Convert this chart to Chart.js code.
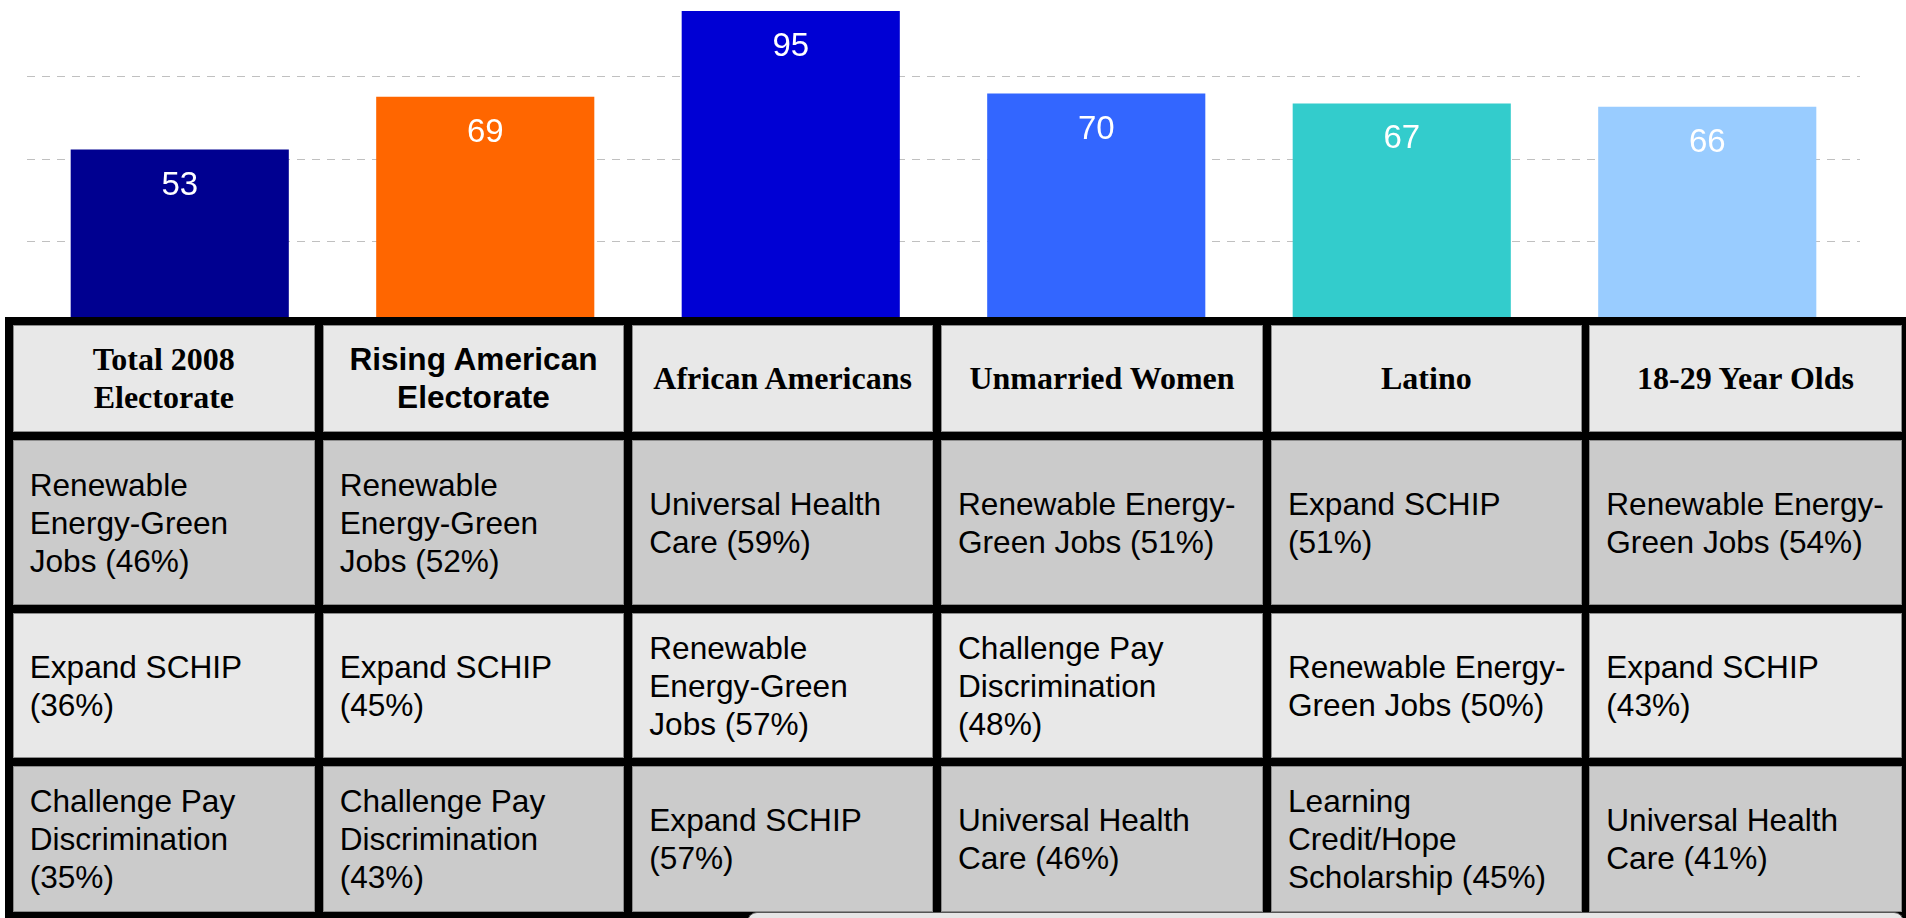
<!DOCTYPE html>
<html>
<head>
<meta charset="utf-8">
<script src="https://cdn.jsdelivr.net/npm/chart.js@4.4.0/dist/chart.umd.min.js"></script>
<style>
html,body{margin:0;padding:0;background:#fff;overflow:hidden;width:1906px;height:918px;}
#wrap{position:relative;width:1906px;height:918px;}
#c{position:absolute;left:0;top:0;}
#tbl{position:absolute;left:5px;top:317px;width:1901px;height:601px;background:#000;}
.cell{position:absolute;box-sizing:border-box;border:1px solid #8c8c8c;display:flex;align-items:center;white-space:pre;overflow:hidden;color:#000;}
.hdr{justify-content:center;text-align:center;font-family:"Liberation Serif","Times New Roman",serif;font-weight:bold;font-size:32px;line-height:38.5px;background:#e8e8e8;}
.hdr.sans{font-family:"Liberation Sans",Arial,sans-serif;font-size:31.6px;line-height:38px;}
.bd{justify-content:flex-start;padding-left:16px;font-family:"Liberation Sans",Arial,sans-serif;font-size:31.6px;line-height:38px;}
.dark{background:#cbcbcb;}
.light{background:#e8e8e8;}
#tab{position:absolute;left:747px;top:912px;width:1157px;height:20px;box-sizing:border-box;border:1.5px solid #555;border-radius:10px 10px 0 0;background:#e6e6e6;}
</style>
</head>
<body>
<div id="wrap">
  <canvas id="c" width="1906" height="918"></canvas>
  <div id="tbl"></div>
  <div id="cells"></div>
  <div id="tab"></div>
</div>
<script>
// ---- data ----
const categories = ["Total 2008 Electorate","Rising American Electorate","African Americans","Unmarried Women","Latino","18-29 Year Olds"];
const values = [53, 69, 95, 70, 67, 66];
const barColors = ["#000090","#ff6600","#0000d4","#3366ff","#33cccc","#99ccff"];
const gridTicks = [25, 50, 75];

const headerTexts = ["Total 2008\nElectorate","Rising American\nElectorate","African Americans","Unmarried Women","Latino","18-29 Year Olds"];
const row1Texts = ["Renewable\nEnergy-Green\nJobs (46%)","Renewable\nEnergy-Green\nJobs (52%)","Universal Health\nCare (59%)","Renewable Energy-\nGreen Jobs (51%)","Expand SCHIP\n(51%)","Renewable Energy-\nGreen Jobs (54%)"];
const row2Texts = ["Expand SCHIP\n(36%)","Expand SCHIP\n(45%)","Renewable\nEnergy-Green\nJobs (57%)","Challenge Pay\nDiscrimination\n(48%)","Renewable Energy-\nGreen Jobs (50%)","Expand SCHIP\n(43%)"];
const row3Texts = ["Challenge Pay\nDiscrimination\n(35%)","Challenge Pay\nDiscrimination\n(43%)","Expand SCHIP\n(57%)","Universal Health\nCare (46%)","Learning\nCredit/Hope\nScholarship (45%)","Universal Health\nCare (41%)"];

// ---- table layout ----
const colL = [12.7, 322.7, 632.3, 941, 1271, 1589.3];
const colR = [315, 624.3, 933, 1263, 1581.7, 1901.7];
const rowT = [325, 440, 613, 766];
const rowB = [431.7, 605, 758, 912];
const rows = [headerTexts, row1Texts, row2Texts, row3Texts];
const cellsEl = document.getElementById('cells');
rows.forEach((r, ri) => {
  r.forEach((txt, ci) => {
    const d = document.createElement('div');
    let cls = 'cell ';
    if (ri === 0) cls += 'hdr' + (ci === 1 ? ' sans' : '');
    else cls += 'bd ' + (ri % 2 === 1 ? 'dark' : 'light');
    d.className = cls;
    d.style.left = colL[ci] + 'px';
    d.style.top = rowT[ri] + 'px';
    d.style.width = (colR[ci] - colL[ci]) + 'px';
    d.style.height = (rowB[ri] - rowT[ri]) + 'px';
    d.textContent = txt;
    cellsEl.appendChild(d);
  });
});

// ---- chart ----
const labelPlugin = {
  id: 'barLabels',
  afterDatasetsDraw(chart) {
    const ctx = chart.ctx;
    const meta = chart.getDatasetMeta(0);
    ctx.save();
    ctx.fillStyle = '#ffffff';
    ctx.font = '33px "Liberation Sans", Arial, sans-serif';
    ctx.textAlign = 'center';
    ctx.textBaseline = 'middle';
    meta.data.forEach((bar, i) => {
      ctx.fillText(String(values[i]), bar.x, bar.y + 36);
    });
    ctx.restore();
  }
};

new Chart(document.getElementById('c'), {
  type: 'bar',
  data: {
    labels: categories,
    datasets: [{
      data: values,
      backgroundColor: barColors,
      borderWidth: 0,
      categoryPercentage: 1,
      barPercentage: 0.714
    }]
  },
  options: {
    responsive: false,
    animation: false,
    layout: { padding: { left: 27, right: 46, top: 0, bottom: 593.5 } },
    plugins: { legend: { display: false }, tooltip: { enabled: false } },
    scales: {
      x: { display: false },
      y: {
        min: 0,
        max: 98.33,
        afterBuildTicks: (axis) => { axis.ticks = gridTicks.map(v => ({ value: v })); },
        afterFit: (axis) => { axis.width = 0; },
        ticks: { display: false },
        grid: { color: '#c0c0c0', lineWidth: 1, drawTicks: false },
        border: { display: false, dash: [8, 7] }
      }
    }
  },
  plugins: [labelPlugin]
});
</script>
</body>
</html>
